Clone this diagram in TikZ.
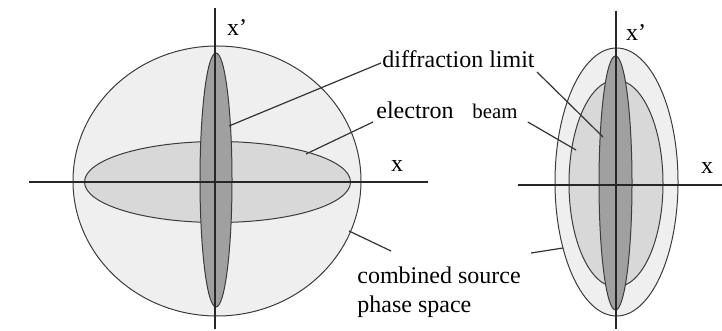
\documentclass[tikz,border=0pt]{standalone}
\usepackage{fontspec}
\setmainfont{Liberation Serif}
\usepackage{xcolor}
\definecolor{PhaseLight}{RGB}{239,239,239}
\definecolor{BeamGray}{RGB}{216,216,216}
\definecolor{DiffGray}{RGB}{160,160,160}
\definecolor{EdgeGray}{RGB}{60,60,60}
\usepackage{tikz}
\usetikzlibrary{positioning}

\tikzset{
  phase/.style={draw=EdgeGray,line width=0.5pt},
  axis/.style={draw=black!85,line width=0.6pt},
  lead/.style={draw=black!80,line width=0.6pt},
  lbl/.style={inner sep=0pt,font=\fontsize{12}{14.5}\selectfont}
}

\begin{document}
\begin{tikzpicture}[x=0.5pt,y=-0.5pt]
  \useasboundingbox (0,0) rectangle (722,331);
  % left: round source
  \draw[phase,fill=PhaseLight] (217,181) ellipse [x radius=144,y radius=135];
  \draw[phase,fill=BeamGray]   (217.5,182) ellipse [x radius=133,y radius=40.5];
  \draw[phase,fill=DiffGray]   (216,180) ellipse [x radius=16,y radius=127];
  \draw[axis] (215,8) -- (215,329);
  \draw[axis] (29,182) -- (428,182);
  \node[lbl] (xpl) at (237,28) {x'};
  \node[lbl] (xl) at (397,166) {x};
  % right: matched source
  \draw[phase,fill=PhaseLight] (616.5,182) ellipse [x radius=61.5,y radius=134];
  \draw[phase,fill=BeamGray]   (616,183.5) ellipse [x radius=47,y radius=103.5];
  \draw[phase,fill=DiffGray]   (615.5,183) ellipse [x radius=16.5,y radius=127];
  \draw[axis] (616,11) -- (616,329);
  \draw[axis] (518,185) -- (722,185);
  \node[lbl] (xpr) at (636,33) {x'};
  \node[lbl] (xr) at (707,168) {x};
  % labels
  \node[lbl,anchor=base west] (diff) at (382,68) {diffraction limit};
  \node[lbl,anchor=base west] (elec) at (376,119) {electron};
  \node[lbl,anchor=base west,font=\fontsize{10.4}{12}\selectfont] (beam) at (472,119) {beam};
  \node[lbl,anchor=north west,align=left] (comb) at (357,266) {combined source\\phase space};
  % leaders
  \coordinate (dl) at (229,126);
  \coordinate (dr) at (603,137);
  \coordinate (el) at (306,154);
  \coordinate (br) at (576,150);
  \coordinate (cl) at (349,231);
  \coordinate (cr) at (563,248);
  \draw[lead] (dl) -- ([shift={(-1,-5)}]diff.base west);
  \draw[lead] ([shift={(2,4)}]diff.base east) -- (dr);
  \draw[lead] (el) -- ([shift={(-3,3)}]elec.base west);
  \draw[lead] ([shift={(10,3)}]beam.base east) -- (br);
  \draw[lead] (cl) -- ([shift={(34,-15)}]comb.north west);
  \draw[lead] ([shift={(10,-13)}]comb.north east) -- (cr);
\end{tikzpicture}
\end{document}
